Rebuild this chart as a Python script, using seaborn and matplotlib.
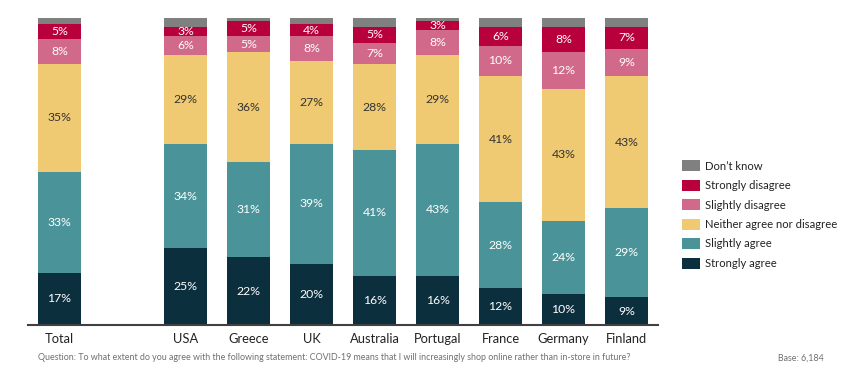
import numpy as np
import pandas as pd
import matplotlib
matplotlib.use("Agg")
import matplotlib.pyplot as plt
import seaborn as sns
from matplotlib.patches import Patch

sns.set_style("white")
plt.rcParams['font.family'] = ['Lato', 'DejaVu Sans']

# data (percent of respondents)
groups = ["Total", "USA", "Greece", "UK", "Australia", "Portugal", "France", "Germany", "Finland"]
strongly_agree = [17, 25, 22, 20, 16, 16, 12, 10, 9]
slightly_agree = [33, 34, 31, 39, 41, 43, 28, 24, 29]
neither = [35, 29, 36, 27, 28, 29, 41, 43, 43]
slightly_disagree = [8, 6, 5, 8, 7, 8, 10, 12, 9]
strongly_disagree = [5, 3, 5, 4, 5, 3, 6, 8, 7]
dont_know = [2, 3, 1, 2, 3, 1, 3, 3, 3]

answers = ["Strongly agree", "Slightly agree", "Neither agree nor disagree",
           "Slightly disagree", "Strongly disagree", "Don\u2019t know"]
series = [strongly_agree, slightly_agree, neither, slightly_disagree, strongly_disagree, dont_know]
colors = ["#0c2f3e", "#4a9398", "#f0ca72", "#d1698a", "#b8003c", "#808080"]
label_colors = ["white", "white", "#333333", "white", "white", None]

# Total sits apart from the countries
pos = [0] + list(range(2, 2 + len(groups) - 1))

rows = []
for ans, vals in zip(answers, series):
    for p, v in zip(pos, vals):
        rows.append({"pos": p, "answer": ans, "value": v})
df = pd.DataFrame(rows)

fig = plt.figure(figsize=(8.5, 3.73), dpi=100)
ax = fig.add_axes([28 / 850, 48 / 373, 630 / 850, 307 / 373])

sns.histplot(data=df, x="pos", weights="value", hue="answer",
             hue_order=answers[::-1], palette=dict(zip(answers, colors)),
             multiple="stack", discrete=True, shrink=0.67, alpha=1,
             linewidth=0, legend=False, ax=ax)

# segment labels
bottoms = np.zeros(len(groups))
for vals, tc in zip(series, label_colors):
    vals = np.array(vals, dtype=float)
    if tc is not None:
        for p, b, v in zip(pos, bottoms, vals):
            ax.text(p, b + v / 2, f"{int(v)}%", ha="center", va="center",
                    fontsize=8.8, color=tc)
    bottoms += vals

ax.set_xlim(-0.5, 9.5)
ax.set_ylim(0, 100)
ax.set_xticks(pos)
ax.set_xticklabels(groups, fontsize=9.3, color="#222222")
ax.tick_params(axis="x", length=0, pad=6)
ax.set_yticks([])
ax.set_xlabel("")
ax.set_ylabel("")
for s in ["top", "right", "left"]:
    ax.spines[s].set_visible(False)
ax.spines["bottom"].set_color("#404040")
ax.spines["bottom"].set_linewidth(1.5)

handles = [Patch(facecolor=c, edgecolor="none") for c in colors[::-1]]
fig.legend(handles, answers[::-1], loc="upper left", bbox_to_anchor=(672 / 850, 1 - 150 / 373),
           frameon=False, fontsize=8.1, handlelength=1.6, handleheight=1.15,
           labelspacing=0.72, handletextpad=0.4, labelcolor="#222222")

fig.text(38 / 850, 1 - 358 / 373,
         "Question: To what extent do you agree with the following statement: COVID-19 means that I will "
         "increasingly shop online rather than in-store in future?",
         fontsize=6.4, color="#707070", va="center")
fig.text(778 / 850, 1 - 358 / 373, "Base: 6,184", fontsize=6.4, color="#707070", va="center")

fig.savefig("out.png", dpi=100)
